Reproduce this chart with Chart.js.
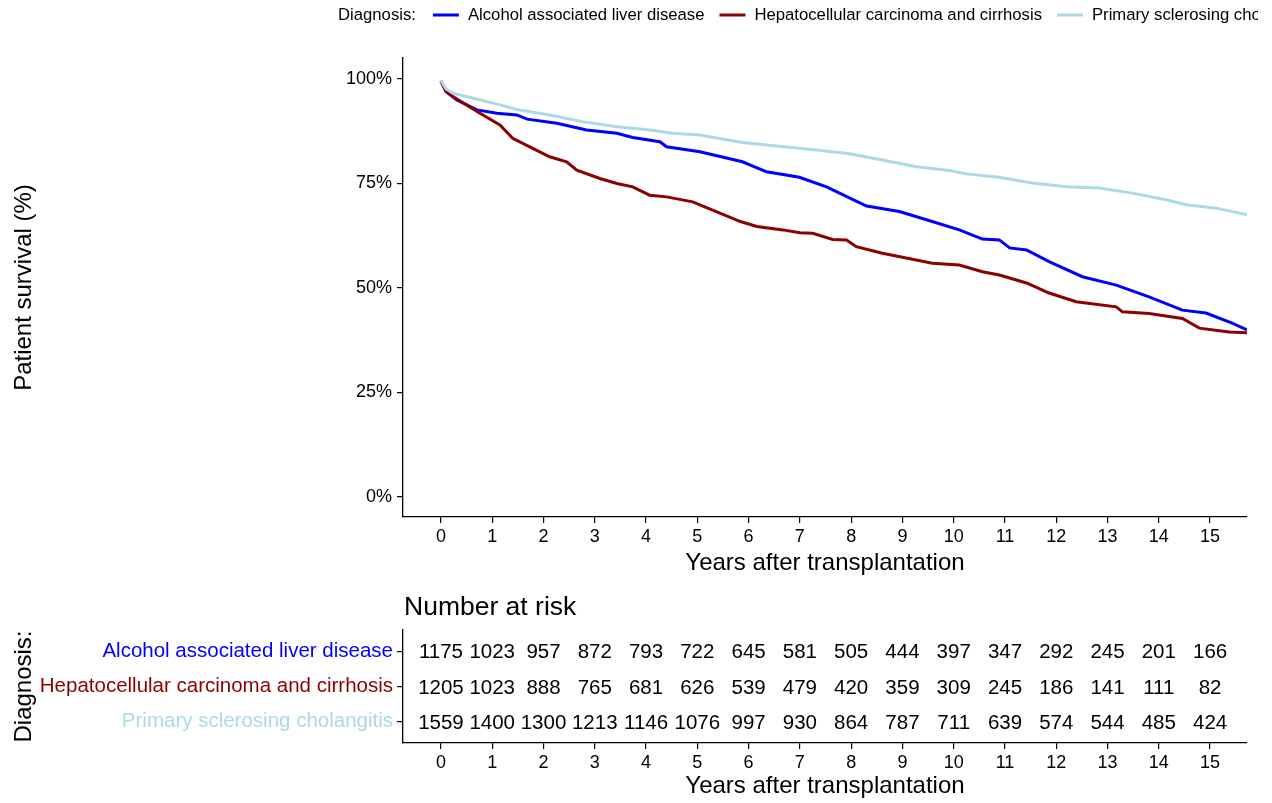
<!DOCTYPE html>
<html>
<head>
<meta charset="utf-8">
<script src="https://cdn.jsdelivr.net/npm/chart.js@4"></script>
<style>
  html, body { margin: 0; padding: 0; background: #fff; }
  #wrap { position: relative; width: 1272px; height: 803px; overflow: hidden; }
  canvas { position: absolute; left: 0; }
  #km { top: 0; }
  #risk { top: 580px; }
</style>
</head>
<body>
<div id="wrap">
  <canvas id="km" width="1272" height="580"></canvas>
  <canvas id="risk" width="1272" height="223"></canvas>
</div>
<script>
const diagnoses = ['Alcohol associated liver disease', 'Hepatocellular carcinoma and cirrhosis', 'Primary sclerosing cholangitis'];
const lineColors = ['#0000FF', '#8B0000', '#ADD8E6'];
const years = [0, 1, 2, 3, 4, 5, 6, 7, 8, 9, 10, 11, 12, 13, 14, 15];
const survTicks = [0, 25, 50, 75, 100];

// survival curves (years, %)
const aldT = [0, 0.1, 0.31, 0.70, 1.09, 1.48, 1.68, 2.26, 2.84, 3.43, 3.74, 4.27, 4.40, 5.05, 5.88, 6.35, 6.99, 7.52, 8.30, 8.94, 9.58, 10.11, 10.56, 10.89, 11.09, 11.42, 11.86, 12.51, 13.17, 13.81, 14.46, 14.92, 15.43, 15.72];
const aldS = [99.6, 97, 95, 92.6, 91.8, 91.4, 90.4, 89.4, 87.8, 87, 86, 85, 83.8, 82.6, 80.2, 77.8, 76.5, 74.2, 69.6, 68.3, 65.9, 63.9, 61.7, 61.5, 59.6, 59.1, 56.3, 52.7, 50.7, 47.9, 44.7, 44, 41.6, 40];
const hccT = [0, 0.1, 0.23, 0.76, 1.15, 1.40, 1.79, 2.12, 2.45, 2.65, 3.10, 3.43, 3.74, 4.07, 4.40, 4.91, 5.05, 5.44, 5.84, 6.16, 6.67, 7.0, 7.25, 7.64, 7.91, 8.10, 8.61, 9.27, 9.58, 10.11, 10.56, 10.89, 11.42, 11.86, 12.39, 13.17, 13.29, 13.81, 14.46, 14.79, 15.37, 15.72];
const hccS = [99.4, 97, 95.8, 91.8, 89, 85.8, 83.4, 81.4, 80.2, 78.2, 76.2, 75, 74.2, 72.2, 71.8, 70.6, 69.9, 67.9, 65.9, 64.7, 63.9, 63.2, 63.1, 61.6, 61.5, 59.9, 58.3, 56.7, 55.9, 55.5, 53.9, 53.1, 51.2, 48.8, 46.7, 45.5, 44.3, 43.9, 42.7, 40.4, 39.5, 39.3];
const pscT = [0, 0.1, 0.23, 0.50, 1.15, 1.48, 2.12, 2.76, 3.43, 4.07, 4.52, 5.05, 5.88, 6.35, 7.33, 7.97, 8.61, 9.27, 9.92, 10.25, 10.89, 11.53, 12.2, 12.84, 13.48, 14.14, 14.53, 15.12, 15.72];
const pscS = [99.6, 97.6, 96.6, 95.8, 93.8, 92.7, 91.4, 89.8, 88.6, 87.8, 87, 86.6, 84.8, 84.2, 83, 82.1, 80.6, 79, 78.1, 77.3, 76.5, 75.1, 74.2, 73.9, 72.7, 71.1, 69.9, 69.1, 67.5];

// number at risk
const aldRisk = [1175, 1023, 957, 872, 793, 722, 645, 581, 505, 444, 397, 347, 292, 245, 201, 166];
const hccRisk = [1205, 1023, 888, 765, 681, 626, 539, 479, 420, 359, 309, 245, 186, 141, 111, 82];
const pscRisk = [1559, 1400, 1300, 1213, 1146, 1076, 997, 930, 864, 787, 711, 639, 574, 544, 485, 424];

const xMin = -0.74, xMax = 15.72;
const FONT = '"Liberation Sans", Arial, sans-serif';
Chart.defaults.font.family = FONT;
Chart.defaults.color = '#000';

const curves = [[aldT, aldS], [hccT, hccS], [pscT, pscS]];
const risks = [aldRisk, hccRisk, pscRisk];

function xScale(extra) {
    return Object.assign({
        type: 'linear', min: xMin, max: xMax,
        afterBuildTicks: s => { s.ticks = years.map(v => ({ value: v })); },
        ticks: { font: { size: 18 }, color: '#000', padding: 3, maxRotation: 0, autoSkip: false },
        grid: { drawOnChartArea: false, color: '#000', lineWidth: 1.2, tickLength: 6 },
        border: { color: '#000', width: 1.3 },
        title: { display: true, text: 'Years after transplantation', font: { size: 24 }, color: '#000', padding: { top: 0, bottom: 2 } }
    }, extra);
}

const legendPlugin = {
    id: 'topLegend',
    afterDraw(chart) {
        const ctx = chart.ctx;
        ctx.save();
        ctx.beginPath();
        ctx.rect(0, 0, 1258, 40);
        ctx.clip();
        ctx.font = '16.7px ' + FONT;
        ctx.textBaseline = 'middle';
        ctx.fillStyle = '#000';
        let x = 338;
        const y = 15;
        ctx.fillText('Diagnosis:', x, y);
        x += ctx.measureText('Diagnosis:').width + 17;
        // same order as the diagnoses list
        diagnoses.forEach((name, i) => {
            ctx.strokeStyle = lineColors[i];
            ctx.lineWidth = 3;
            ctx.beginPath();
            ctx.moveTo(x, y);
            ctx.lineTo(x + 26, y);
            ctx.stroke();
            x += 35;
            ctx.fillText(name, x, y);
            x += ctx.measureText(name).width + 15;
        });
        ctx.restore();
    }
};

new Chart(document.getElementById('km'), {
    type: 'line',
    data: {
        datasets: curves.map((c, i) => ({
            label: diagnoses[i],
            data: c[0].map((t, j) => ({ x: t, y: c[1][j] })),
            borderColor: lineColors[i],
            borderWidth: 3,
            pointRadius: 0,
            fill: false,
            tension: 0,
            order: 2 - i
        }))
    },
    options: {
        responsive: false,
        animation: false,
        devicePixelRatio: 1,
        layout: { padding: { top: 58, right: 25, left: 0, bottom: 0 } },
        plugins: { legend: { display: false }, tooltip: { enabled: false } },
        scales: {
            x: xScale({ afterFit: s => { s.height = 63; } }),
            y: {
                type: 'linear', min: -4.78, max: 105.02,
                afterBuildTicks: s => { s.ticks = survTicks.map(v => ({ value: v })); },
                afterFit: s => { s.width = 403; },
                ticks: { font: { size: 18 }, color: '#000', padding: 5, callback: v => v + '%' },
                grid: { drawOnChartArea: false, color: '#000', lineWidth: 1.2, tickLength: 6 },
                border: { color: '#000', width: 1.3 },
                title: { display: true, text: 'Patient survival (%)', font: { size: 24 }, color: '#000', padding: { top: 10 } }
            }
        }
    },
    plugins: [legendPlugin]
});

const riskText = {
    id: 'riskText',
    afterDatasetsDraw(chart) {
        const ctx = chart.ctx;
        ctx.save();
        ctx.font = '20.5px ' + FONT;
        ctx.fillStyle = '#000';
        ctx.textAlign = 'center';
        ctx.textBaseline = 'middle';
        chart.data.datasets.forEach((ds, i) => {
            chart.getDatasetMeta(i).data.forEach((pt, j) => {
                ctx.fillText(String(ds.data[j].n), pt.x, pt.y + 1.5);
            });
        });
        ctx.textAlign = 'left';
        ctx.font = '26.5px ' + FONT;
        ctx.fillText('Number at risk', chart.chartArea.left + 1, chart.chartArea.top - 22);
        ctx.restore();
    }
};

new Chart(document.getElementById('risk'), {
    type: 'scatter',
    data: {
        datasets: risks.map((r, i) => ({
            label: diagnoses[i],
            data: r.map((n, j) => ({ x: years[j], y: i + 1, n: n })),
            pointRadius: 0
        }))
    },
    options: {
        responsive: false,
        animation: false,
        devicePixelRatio: 1,
        layout: { padding: { top: 50, right: 25, left: 0, bottom: 0 } },
        plugins: { legend: { display: false }, tooltip: { enabled: false } },
        scales: {
            x: xScale({ afterFit: s => { s.height = 60; } }),
            y: {
                type: 'linear', min: 0.4, max: 3.6, reverse: true,
                afterBuildTicks: s => { s.ticks = [1, 2, 3].map(v => ({ value: v })); },
                afterFit: s => { s.width = 403; },
                ticks: { font: { size: 20.5 }, padding: 4, color: c => lineColors[c.index], callback: v => diagnoses[v - 1] },
                grid: { drawOnChartArea: false, color: '#000', lineWidth: 1.2, tickLength: 6 },
                border: { color: '#000', width: 1.3 },
                title: { display: true, text: 'Diagnosis:', font: { size: 24 }, color: '#000', padding: { top: 10 } }
            }
        }
    },
    plugins: [riskText]
});
</script>
</body>
</html>
